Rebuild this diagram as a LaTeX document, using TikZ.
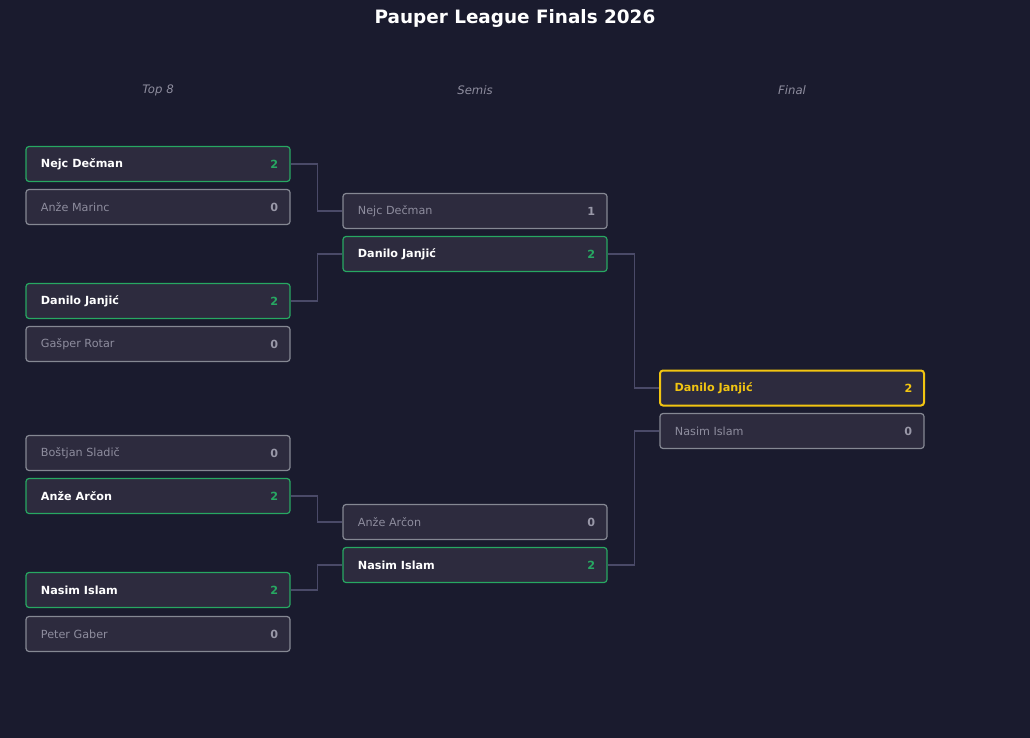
\documentclass[tikz,border=0pt]{standalone}
\usepackage{fontspec}
\setmainfont{DejaVu Sans}
\definecolor{bgcol}{HTML}{1A1B2E}
\definecolor{slotfill}{HTML}{2D2B3E}
\definecolor{wingreen}{HTML}{27A862}
\definecolor{losegray}{HTML}{858893}
\definecolor{champgold}{HTML}{F2C511}
\definecolor{dimtext}{HTML}{8E8D9E}
\definecolor{linkgray}{HTML}{4A4A68}

\tikzset{
	slot/.style={draw, rounded corners=3pt, fill=slotfill, minimum width=264pt, minimum height=35pt, line width=1.2pt},
	won/.style={slot, draw=wingreen},
	lost/.style={slot, draw=losegray},
	champ/.style={slot, draw=champgold, line width=2pt},
	wname/.style={anchor=west, text=white, font=\fontsize{11.2}{13}\selectfont\bfseries},
	lname/.style={anchor=west, text=dimtext, font=\fontsize{11.2}{13}\selectfont},
	cname/.style={anchor=west, text=champgold, font=\fontsize{11.2}{13}\selectfont\bfseries},
	wscore/.style={anchor=east, text=wingreen, font=\fontsize{11.2}{13}\selectfont\bfseries},
	lscore/.style={anchor=east, text=dimtext!90!white, font=\fontsize{11.2}{13}\selectfont\bfseries},
	cscore/.style={anchor=east, text=champgold, font=\fontsize{11.2}{13}\selectfont\bfseries},
	round/.style={text=dimtext, font=\fontsize{11.7}{14}\selectfont\itshape},
	link/.style={draw=linkgray, line width=1.3pt},
}

\begin{document}
\begin{tikzpicture}[x=1pt,y=-1pt]
	\fill[bgcol] (0,0) rectangle (1030,738);
	\node[text=white, font=\fontsize{18.4}{22}\selectfont\bfseries] (Title) at (515,18) {Pauper League Finals 2026};
	\node[round] (RTop) at (158,90) {Top 8};
	\node[round] (RSemi) at (475,90) {Semis};
	\node[round] (RFinal) at (792,90) {Final};

	% top 8
	\node[won] (QA1) at (158,164) {};
	\node[wname] (QA1n) at ([xshift=12pt]QA1.west) {Nejc Dečman};
	\node[wscore] (QA1s) at ([xshift=-9pt]QA1.east) {2};
	\node[lost] (QA2) at (158,207) {};
	\node[lname] (QA2n) at ([xshift=12pt]QA2.west) {Anže Marinc};
	\node[lscore] (QA2s) at ([xshift=-9pt]QA2.east) {0};

	\node[won] (QB1) at (158,301) {};
	\node[wname] (QB1n) at ([xshift=12pt]QB1.west) {Danilo Janjić};
	\node[wscore] (QB1s) at ([xshift=-9pt]QB1.east) {2};
	\node[lost] (QB2) at (158,344) {};
	\node[lname] (QB2n) at ([xshift=12pt]QB2.west) {Gašper Rotar};
	\node[lscore] (QB2s) at ([xshift=-9pt]QB2.east) {0};

	\node[lost] (QC1) at (158,453) {};
	\node[lname] (QC1n) at ([xshift=12pt]QC1.west) {Boštjan Sladič};
	\node[lscore] (QC1s) at ([xshift=-9pt]QC1.east) {0};
	\node[won] (QC2) at (158,496) {};
	\node[wname] (QC2n) at ([xshift=12pt]QC2.west) {Anže Arčon};
	\node[wscore] (QC2s) at ([xshift=-9pt]QC2.east) {2};

	\node[won] (QD1) at (158,590) {};
	\node[wname] (QD1n) at ([xshift=12pt]QD1.west) {Nasim Islam};
	\node[wscore] (QD1s) at ([xshift=-9pt]QD1.east) {2};
	\node[lost] (QD2) at (158,634) {};
	\node[lname] (QD2n) at ([xshift=12pt]QD2.west) {Peter Gaber};
	\node[lscore] (QD2s) at ([xshift=-9pt]QD2.east) {0};

	% semis
	\node[lost] (SA1) at (475,211) {};
	\node[lname] (SA1n) at ([xshift=12pt]SA1.west) {Nejc Dečman};
	\node[lscore] (SA1s) at ([xshift=-9pt]SA1.east) {1};
	\node[won] (SA2) at (475,254) {};
	\node[wname] (SA2n) at ([xshift=12pt]SA2.west) {Danilo Janjić};
	\node[wscore] (SA2s) at ([xshift=-9pt]SA2.east) {2};

	\node[lost] (SB1) at (475,522) {};
	\node[lname] (SB1n) at ([xshift=12pt]SB1.west) {Anže Arčon};
	\node[lscore] (SB1s) at ([xshift=-9pt]SB1.east) {0};
	\node[won] (SB2) at (475,565) {};
	\node[wname] (SB2n) at ([xshift=12pt]SB2.west) {Nasim Islam};
	\node[wscore] (SB2s) at ([xshift=-9pt]SB2.east) {2};

	% final
	\node[champ] (F1) at (792,388) {};
	\node[cname] (F1n) at ([xshift=12pt]F1.west) {Danilo Janjić};
	\node[cscore] (F1s) at ([xshift=-9pt]F1.east) {2};
	\node[lost] (F2) at (792,431) {};
	\node[lname] (F2n) at ([xshift=12pt]F2.west) {Nasim Islam};
	\node[lscore] (F2s) at ([xshift=-9pt]F2.east) {0};

	\draw[link] (QA1.east) -- ++(27,0) |- (SA1.west);
	\draw[link] (QB1.east) -- ++(27,0) |- (SA2.west);
	\draw[link] (QC2.east) -- ++(27,0) |- (SB1.west);
	\draw[link] (QD1.east) -- ++(27,0) |- (SB2.west);
	\draw[link] (SA2.east) -- ++(27,0) |- (F1.west);
	\draw[link] (SB2.east) -- ++(27,0) |- (F2.west);
\end{tikzpicture}
\end{document}
